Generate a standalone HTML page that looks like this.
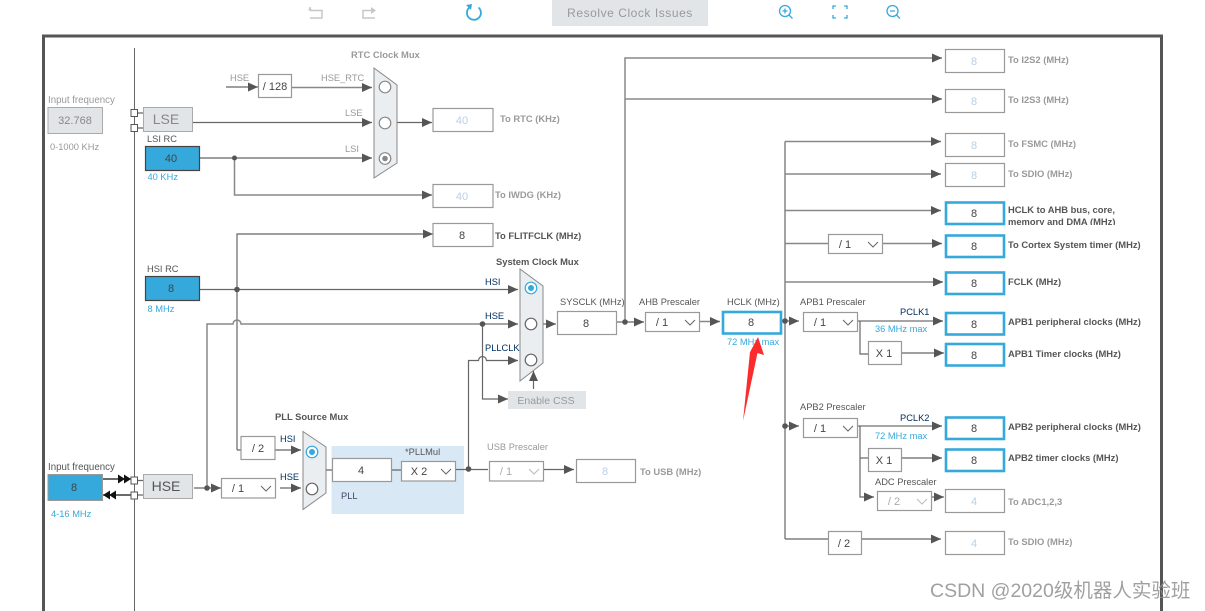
<!DOCTYPE html>
<html><head><meta charset="utf-8"><style>
html,body{margin:0;padding:0;background:#fff;width:1205px;height:611px;overflow:hidden}
svg{display:block}
text{font-family:"Liberation Sans","Noto Sans CJK SC",sans-serif;font-size:9.3px;fill:#555}
.g{fill:#999}.d{fill:#444}.b{fill:#36a9dc}.k{fill:#003060}
.s{font-weight:bold;fill:#555;font-size:9.4px}.sg{font-weight:bold;fill:#9a9a9a;font-size:9.4px}
.if{font-size:9.7px}
.v{font-size:11px;text-anchor:middle;fill:#444}.vl{font-size:11px;text-anchor:middle;fill:#b9d0e6}
.l{fill:none;stroke:#666;stroke-width:1.2}
.lg{fill:none;stroke:#888;stroke-width:1.5}
.a{marker-end:url(#ar)}
.box{fill:#fff;stroke:#999;stroke-width:1.2}
.hb{fill:#fff;stroke:#36a9dc;stroke-width:2.6}
.blue{fill:#36a9dc;stroke:#444;stroke-width:1.2}
.gb{fill:#e2e5e8;stroke:#aaa;stroke-width:1}
.mux{fill:#ebeef1;stroke:#888;stroke-width:1}
.c{fill:#fff;stroke:#666;stroke-width:1.2}
.ch{fill:none;stroke:#666;stroke-width:1}
.ic{fill:none;stroke:#36a9dc;stroke-width:1.3}
.icg{fill:none;stroke:#c4c8cc;stroke-width:1.5}
</style></head><body>
<svg width="1205" height="611" viewBox="0 0 1205 611" xmlns="http://www.w3.org/2000/svg">
<defs>
<marker id="ar" markerUnits="userSpaceOnUse" markerWidth="11" markerHeight="9" refX="10" refY="4.5" orient="auto"><path d="M0 0L10 4.5L0 9z" fill="#555"/></marker>
<marker id="bk" markerUnits="userSpaceOnUse" markerWidth="14" markerHeight="9" refX="13" refY="4.5" orient="auto"><path d="M0 0L7 4.5L0 9zM6 0L13 4.5L6 9z" fill="#111"/></marker>
</defs>

<!-- toolbar -->
<path class="icg" d="M311 9h-1v-2M310 10.500h12v7.500h-12"/><path d="M310 7l-2 3.500l4 0z" fill="#c4c8cc"/>
<path class="icg" d="M375 10.500h-12v7.500h12"/><path d="M371 7l5 3.500l-5 3.500z" fill="#c4c8cc"/>
<path d="M470 7A7 7 0 1 0 478.500 7.500" fill="none" stroke="#36a9dc" stroke-width="1.8"/><path d="M466 5l6 -1l-1 6z" fill="#36a9dc"/>
<rect x="552" y="0" width="156" height="26" fill="#e2e5e8"/>
<text x="630" y="17" style="font-size:12px;letter-spacing:.55px" text-anchor="middle" class="g">Resolve Clock Issues</text>
<circle class="ic" cx="785" cy="11" r="5.500"/><path class="ic" d="M789 15l3.500 3.500M782.500 11h5M785 8.500v5"/>
<path class="ic" d="M833 9V6h3M844 6h3v3M847 15v3h-3M836 18h-3v-3"/>
<circle class="ic" cx="892.500" cy="11" r="5.500"/><path class="ic" d="M896.500 15l3.500 3.500M890 11h5"/>

<!-- frame -->
<path d="M43.500 611V36H1161.500V611" fill="none" stroke="#555" stroke-width="3"/>
<path d="M134.500 48V611" fill="none" stroke="#666" stroke-width="1"/>

<!-- connectors -->
<path class="l a" d="M226 87H258"/>
<path class="lg a" d="M291 87.500H372"/>
<path class="l a" d="M193 122.500H372"/>
<path class="l a" d="M200 158H372"/>
<path class="lg a" d="M234.500 158V195H432"/>
<path class="l a" d="M397 122.500H432"/>
<path class="l a" d="M237 450H241M237 450V234H433"/>
<path class="l a" d="M200 289.500H518"/>
<path class="lg a" d="M207 488V324H233a4 4 0 0 1 8 0H518"/>
<path class="l a" d="M482.500 324V399H508"/>
<path class="l a" d="M533.500 389V371"/>
<path class="l a" d="M468.500 469V360.500H478.500a4 4 0 0 1 8 0H518"/>
<path class="l a" d="M543 324H556"/>
<path class="l" d="M617 322H625"/>
<path class="l a" d="M625 322H644"/>
<path class="lg a" d="M625 322V58H942"/>
<path class="lg a" d="M625 99H942"/>
<path class="lg a" d="M699 321.500H720"/>
<path class="l" d="M781 321H785"/>
<path class="l a" d="M785 321H799"/>
<path class="l" d="M785 539V141.500"/>
<path class="l" d="M785 539H828"/>
<path class="lg a" d="M785 141.500H941"/>
<path class="lg a" d="M785 174H941"/>
<path class="lg a" d="M785 210.500H941"/>
<path class="lg" d="M785 243.500H828"/><path class="lg a" d="M882 243.500H942"/>
<path class="lg a" d="M785 282H943"/>
<path class="lg a" d="M857 321H943"/>
<path class="l" d="M860 321V354H868"/>
<path class="l a" d="M901 353H944"/>
<path class="l a" d="M785 426H799"/>
<path class="lg a" d="M857 426H942"/>
<path class="l" d="M860 458H868"/>
<path class="l a" d="M860 426V497H874"/>
<path class="l a" d="M901 458H942"/>
<path class="l a" d="M932 497H944"/>
<path class="l a" d="M861 539H941"/>
<path class="l a" d="M194 488H221"/>
<path class="l a" d="M280 488H301"/>
<path class="l a" d="M275 450H301"/>
<path class="l" d="M456 469.500H488"/>
<path class="l a" d="M544 469.500H574"/>
<path d="M103 479H131" fill="none" stroke="#111" stroke-width="1.200" marker-end="url(#bk)"/>
<path d="M131 495H103" fill="none" stroke="#111" stroke-width="1.200" marker-end="url(#bk)"/>
<path class="l" d="M138 480.500H143M138 495H143M138 113H143M138 128H143"/>

<!-- dots -->
<g fill="#555"><circle cx="234.500" cy="158" r="2.500"/><circle cx="237" cy="289.500" r="2.800"/><circle cx="482.500" cy="324" r="2.800"/><circle cx="468.500" cy="469" r="2.800"/><circle cx="207" cy="488" r="2.800"/><circle cx="625" cy="322" r="2.800"/><circle cx="785" cy="321" r="2.800"/><circle cx="785" cy="426" r="2.800"/></g>

<!-- left -->
<rect x="131" y="109.500" width="6.500" height="7" fill="#fff" stroke="#555"/>
<rect x="131" y="124.500" width="6.500" height="7" fill="#fff" stroke="#555"/>
<rect x="131" y="477" width="6.500" height="7" fill="#fff" stroke="#555"/>
<rect x="131" y="492" width="6.500" height="7" fill="#fff" stroke="#555"/>
<text x="48" y="103" class="g if">Input frequency</text>
<rect class="gb" x="48" y="107.500" width="54.500" height="26"/>
<text x="75" y="124" class="v" style="fill:#888">32.768</text>
<text x="50" y="150" class="g">0-1000 KHz</text>
<rect class="gb" x="143.500" y="107.500" width="49" height="24"/>
<text x="166" y="124" text-anchor="middle" style="font-size:14px;fill:#888">LSE</text>
<text x="147" y="142">LSI RC</text>
<rect class="blue" x="145.500" y="146.500" width="54" height="24"/>
<text x="171" y="162" class="v">40</text>
<text x="147.500" y="180" class="b">40 KHz</text>
<text x="147" y="272">HSI RC</text>
<rect class="blue" x="145.500" y="276.500" width="54" height="24"/>
<text x="171" y="292" class="v">8</text>
<text x="147.500" y="312" class="b">8 MHz</text>
<text x="48" y="470" class="if">Input frequency</text>
<rect x="48" y="474.500" width="54.500" height="26" fill="#36a9dc" stroke="#999"/>
<text x="74" y="491" class="v">8</text>
<text x="51" y="517" class="b">4-16 MHz</text>
<rect class="gb" x="143.500" y="474.500" width="49" height="24"/>
<text x="166" y="491" text-anchor="middle" style="font-size:14px;fill:#555">HSE</text>

<!-- RTC -->
<text x="351" y="58" class="sg">RTC Clock Mux</text>
<text x="230" y="81" class="g">HSE</text>
<rect class="box" x="258.500" y="74.500" width="33" height="23"/>
<text x="275" y="90" class="v">/ 128</text>
<text x="321" y="81" class="g">HSE_RTC</text>
<text x="345" y="116" class="g">LSE</text>
<text x="345" y="152" class="g">LSI</text>
<path class="mux" d="M374 68L397 85V163L374 178z"/>
<circle class="c" cx="385" cy="87" r="5.800" style="stroke:#888"/>
<circle class="c" cx="385" cy="123" r="5.800" style="stroke:#888"/>
<circle class="c" cx="385" cy="158.500" r="5.800" style="stroke:#888"/><circle cx="385" cy="158.500" r="2.800" fill="#888"/>
<rect class="box" x="433" y="108.500" width="60" height="23"/><text x="462" y="124" class="vl">40</text>
<text x="500" y="122" class="sg">To RTC (KHz)</text>
<rect class="box" x="433" y="184.500" width="60" height="23"/><text x="462" y="200" class="vl">40</text>
<text x="495" y="198" class="sg">To IWDG (KHz)</text>
<rect class="box" x="433" y="223.500" width="60" height="23"/><text x="462" y="239" class="v">8</text>
<text x="495" y="239" class="s">To FLITFCLK (MHz)</text>

<!-- sys mux -->
<text x="496" y="265" class="s">System Clock Mux</text>
<text x="485" y="285" class="k">HSI</text>
<text x="485" y="319" class="k">HSE</text>
<text x="485" y="351" class="k">PLLCLK</text>
<path class="mux" d="M520 269L543 286V363L520 381z"/>
<circle class="c" cx="531" cy="288" r="5.800" style="stroke:#36a9dc"/><circle cx="531" cy="288" r="3" fill="#36a9dc"/>
<circle class="c" cx="531" cy="324" r="5.800"/>
<circle class="c" cx="531" cy="360" r="5.800"/>
<rect x="508" y="391" width="78" height="18" fill="#e2e5e8"/>
<text x="546" y="404" text-anchor="middle" style="font-size:10.500px" class="g">Enable CSS</text>
<text x="560" y="305">SYSCLK (MHz)</text>
<rect class="box" x="557.500" y="311.500" width="59" height="23"/><text x="586" y="327" class="v">8</text>

<!-- PLL -->
<text x="275" y="420" class="s">PLL Source Mux</text>
<rect class="box" x="241" y="436.500" width="34" height="23"/><text x="258" y="452" class="v">/ 2</text>
<text x="280" y="442" class="k">HSI</text>
<text x="280" y="480" class="k">HSE</text>
<rect class="box" x="221.500" y="478.500" width="54" height="19.500"/><text x="238" y="492" class="v">/ 1</text><path class="ch" d="M261 486L266 491L271 486"/>
<path class="mux" d="M303 431.500L326 447V493L303 509.500z"/>
<circle class="c" cx="312" cy="452" r="5.800" style="stroke:#36a9dc"/><circle cx="312" cy="452" r="3" fill="#36a9dc"/>
<circle class="c" cx="312" cy="489" r="5.800"/>
<rect x="331.500" y="446" width="132.500" height="68" fill="#d9e8f5"/>
<path class="l" d="M326 470H332M392 470H401M456 469.500H464"/>
<rect class="box" x="332.500" y="458.500" width="59" height="23"/><text x="361" y="474" class="v">4</text>
<text x="341" y="499" style="fill:#446">PLL</text>
<text x="405" y="455">*PLLMul</text>
<rect class="box" x="401.500" y="461.500" width="54" height="19.500"/><text x="419" y="475" class="v">X 2</text><path class="ch" d="M441 469L446 474L451 469"/>
<text x="487" y="450" class="g">USB Prescaler</text>
<rect class="box" x="489.500" y="461.500" width="54" height="19.500"/><text x="506" y="475" class="vl" style="fill:#aaa">/ 1</text><path class="ch" d="M529 469L534 474L539 469" style="stroke:#bbb"/>
<rect class="box" x="576.500" y="459.500" width="59" height="23"/><text x="605" y="475" class="vl">8</text>
<text x="640" y="475" class="sg">To USB (MHz)</text>

<!-- AHB / HCLK -->
<text x="639" y="305">AHB Prescaler</text>
<rect class="box" x="645.500" y="312.500" width="54" height="19"/><text x="662" y="326" class="v">/ 1</text><path class="ch" d="M685 320L690 325L695 320"/>
<text x="727" y="305">HCLK (MHz)</text>
<rect class="hb" x="723" y="312" width="58" height="21.500"/><text x="751" y="326" class="v">8</text>
<text x="727" y="345" class="b">72 MHz max</text>

<!-- right boxes -->
<rect class="box" x="945.500" y="49.500" width="59" height="23"/><text x="974" y="65" class="vl">8</text><text x="1008" y="63" class="sg">To I2S2 (MHz)</text>
<rect class="box" x="945.500" y="89.500" width="59" height="23"/><text x="974" y="105" class="vl">8</text><text x="1008" y="103" class="sg">To I2S3 (MHz)</text>
<rect class="box" x="945.500" y="133.500" width="59" height="23"/><text x="974" y="149" class="vl">8</text><text x="1008" y="147" class="sg">To FSMC (MHz)</text>
<rect class="box" x="945.500" y="163.500" width="59" height="23"/><text x="974" y="179" class="vl">8</text><text x="1008" y="177" class="sg">To SDIO (MHz)</text>
<rect class="hb" x="946" y="202.500" width="58" height="21.500"/><text x="974" y="217" class="v">8</text>
<text x="1008" y="213" class="s">HCLK to AHB bus, core,</text>
<svg x="1005" y="216" width="120" height="9" viewBox="1005 216 120 9"><text x="1008" y="225" class="s">memory and DMA (MHz)</text></svg>
<rect class="box" x="828.500" y="234.500" width="54" height="19"/><text x="845" y="248" class="v">/ 1</text><path class="ch" d="M868 242L873 247L878 242"/>
<rect class="hb" x="946" y="235.500" width="58" height="21.500"/><text x="974" y="250" class="v">8</text><text x="1008" y="248" class="s">To Cortex System timer (MHz)</text>
<rect class="hb" x="946" y="272.500" width="58" height="21.500"/><text x="974" y="287" class="v">8</text><text x="1008" y="285" class="s">FCLK (MHz)</text>

<text x="800" y="305">APB1 Prescaler</text>
<rect class="box" x="803.500" y="312.500" width="54" height="19"/><text x="820" y="326" class="v">/ 1</text><path class="ch" d="M843 320L848 325L853 320"/>
<text x="900" y="315" class="k">PCLK1</text>
<text x="875" y="332" class="b">36 MHz max</text>
<rect class="hb" x="946" y="313" width="58" height="21.500"/><text x="974" y="328" class="v">8</text><text x="1008" y="325" class="s">APB1 peripheral clocks (MHz)</text>
<rect class="box" x="868.500" y="341.500" width="33" height="23"/><text x="884" y="357" class="v">X 1</text>
<rect class="hb" x="946" y="344" width="58" height="21.500"/><text x="974" y="359" class="v">8</text><text x="1008" y="357" class="s">APB1 Timer clocks (MHz)</text>

<text x="800" y="410">APB2 Prescaler</text>
<rect class="box" x="803.500" y="418.500" width="54" height="19"/><text x="820" y="432" class="v">/ 1</text><path class="ch" d="M843 426L848 431L853 426"/>
<text x="900" y="421" class="k">PCLK2</text>
<text x="875" y="439" class="b">72 MHz max</text>
<rect class="hb" x="946" y="417.500" width="58" height="21.500"/><text x="974" y="432" class="v">8</text><text x="1008" y="430" class="s">APB2 peripheral clocks (MHz)</text>
<rect class="box" x="868.500" y="448.500" width="33" height="23"/><text x="884" y="464" class="v">X 1</text>
<rect class="hb" x="946" y="449.500" width="58" height="21.500"/><text x="974" y="464" class="v">8</text><text x="1008" y="461" class="s">APB2 timer clocks (MHz)</text>
<text x="875" y="485">ADC Prescaler</text>
<rect class="box" x="877.500" y="491.500" width="54" height="19"/><text x="894" y="505" class="vl" style="fill:#aaa">/ 2</text><path class="ch" d="M917 499L922 504L927 499" style="stroke:#bbb"/>
<rect class="box" x="945.500" y="489.500" width="59" height="23"/><text x="974" y="505" class="vl">4</text><text x="1008" y="505" class="sg">To ADC1,2,3</text>
<rect class="box" x="828.500" y="531.500" width="33" height="23"/><text x="844" y="547" class="v">/ 2</text>
<rect class="box" x="945.500" y="531.500" width="59" height="23"/><text x="974" y="547" class="vl">4</text><text x="1008" y="545" class="sg">To SDIO (MHz)</text>

<!-- red arrow -->
<path d="M758 337L764 355L757.500 353L743 421L750 352L748.500 355z" fill="#fb2c2c"/>

<!-- watermark -->
<text x="930" y="597" style="font-size:19.500px;fill:#8f8f8f;fill-opacity:.85">CSDN @2020级机器人实验班</text>
</svg>
</body></html>
